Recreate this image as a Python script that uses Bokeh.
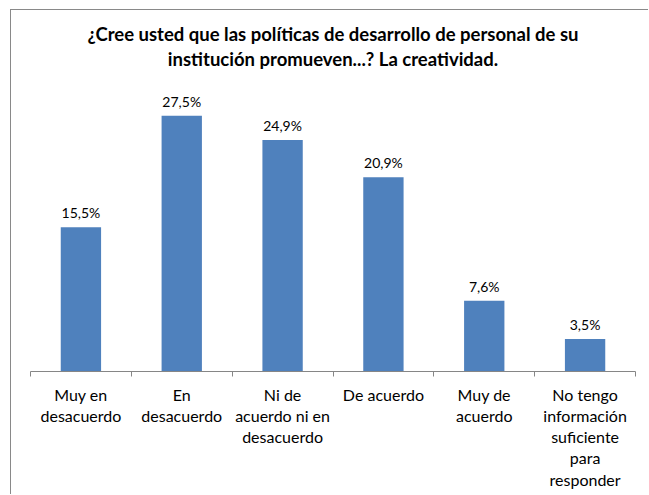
from bokeh.plotting import figure
from bokeh.models import Range1d, FixedTicker, ColumnDataSource, LabelSet, LinearAxis
from bokeh.core.properties import value
from bokeh.embed import file_html
from bokeh.resources import INLINE

categories = [
    "Muy en\ndesacuerdo",
    "En\ndesacuerdo",
    "Ni de\nacuerdo ni en\ndesacuerdo",
    "De acuerdo",
    "Muy de\nacuerdo",
    "No tengo\ninformación\nsuficiente\npara\nresponder",
]
values = [15.5, 27.5, 24.9, 20.9, 7.6, 3.5]
title_lines = [
    "¿Cree usted que las políticas de desarrollo de personal de su",
    "institución promueven...? La creatividad.",
]
y_max = 30

FONT = "Lato"
positions = list(range(len(categories)))
labels = [f"{v:.1f}".replace(".", ",") + "%" for v in values]
src = ColumnDataSource(dict(x=positions, top=values, lab=labels))

W, H = 638, 485
p = figure(width=W, height=H,
           x_range=Range1d(-0.5, len(categories) - 0.5), y_range=Range1d(0, y_max),
           output_backend="svg", toolbar_location=None,
           min_border_left=19, min_border_right=14,
           min_border_top=82, min_border_bottom=H - 361)
p.margin = (9, 0, 0, 10)
p.styles = {"border-left": "1px solid #898989", "border-top": "1px solid #898989"}

# Title: drawn as a centred multi-line label of an axis above the plot
center_x = (len(categories) - 1) / 2
title_axis = LinearAxis(ticker=FixedTicker(ticks=[center_x], minor_ticks=[]),
                        major_label_overrides={center_x: "\n".join(title_lines)})
title_axis.axis_line_color = None
title_axis.major_tick_line_color = None
title_axis.minor_tick_line_color = None
title_axis.major_tick_out = 0
title_axis.major_tick_in = 0
title_axis.minor_tick_out = 0
title_axis.major_label_text_font = FONT
title_axis.major_label_text_font_style = "bold"
title_axis.major_label_text_font_size = "18.5px"
title_axis.major_label_text_color = "#000000"
title_axis.major_label_text_line_height = 1.13
title_axis.major_label_standoff = 23
title_axis.major_label_orientation = "horizontal"
p.add_layout(title_axis, "above")

p.vbar(x="x", top="top", width=0.4, source=src, fill_color="#4F81BD", line_color=None)

p.add_layout(LabelSet(x="x", y="top", text="lab", source=src, text_align="center",
                      text_baseline="bottom", y_offset=6, text_font=value(FONT),
                      text_font_size=value("14px"), text_color="#000000"))

p.yaxis.visible = False
p.xgrid.visible = False
p.ygrid.visible = False
p.outline_line_color = None

xaxis = p.below[0]
boundaries = [i - 0.5 for i in range(len(categories) + 1)]
xaxis.ticker = FixedTicker(ticks=positions, minor_ticks=boundaries)
xaxis.major_label_overrides = {i: c for i, c in enumerate(categories)}
xaxis.major_tick_line_color = None
xaxis.major_tick_out = 0
xaxis.major_tick_in = 0
xaxis.minor_tick_out = 5
xaxis.minor_tick_in = 0
xaxis.minor_tick_line_color = "#868686"
xaxis.axis_line_color = "#868686"
xaxis.major_label_text_font = FONT
xaxis.major_label_text_font_size = "16px"
xaxis.major_label_text_color = "#000000"
xaxis.major_label_text_line_height = 1.12
xaxis.major_label_standoff = 8
xaxis.major_label_orientation = "horizontal"

open("out.html", "w").write(file_html(p, INLINE))
